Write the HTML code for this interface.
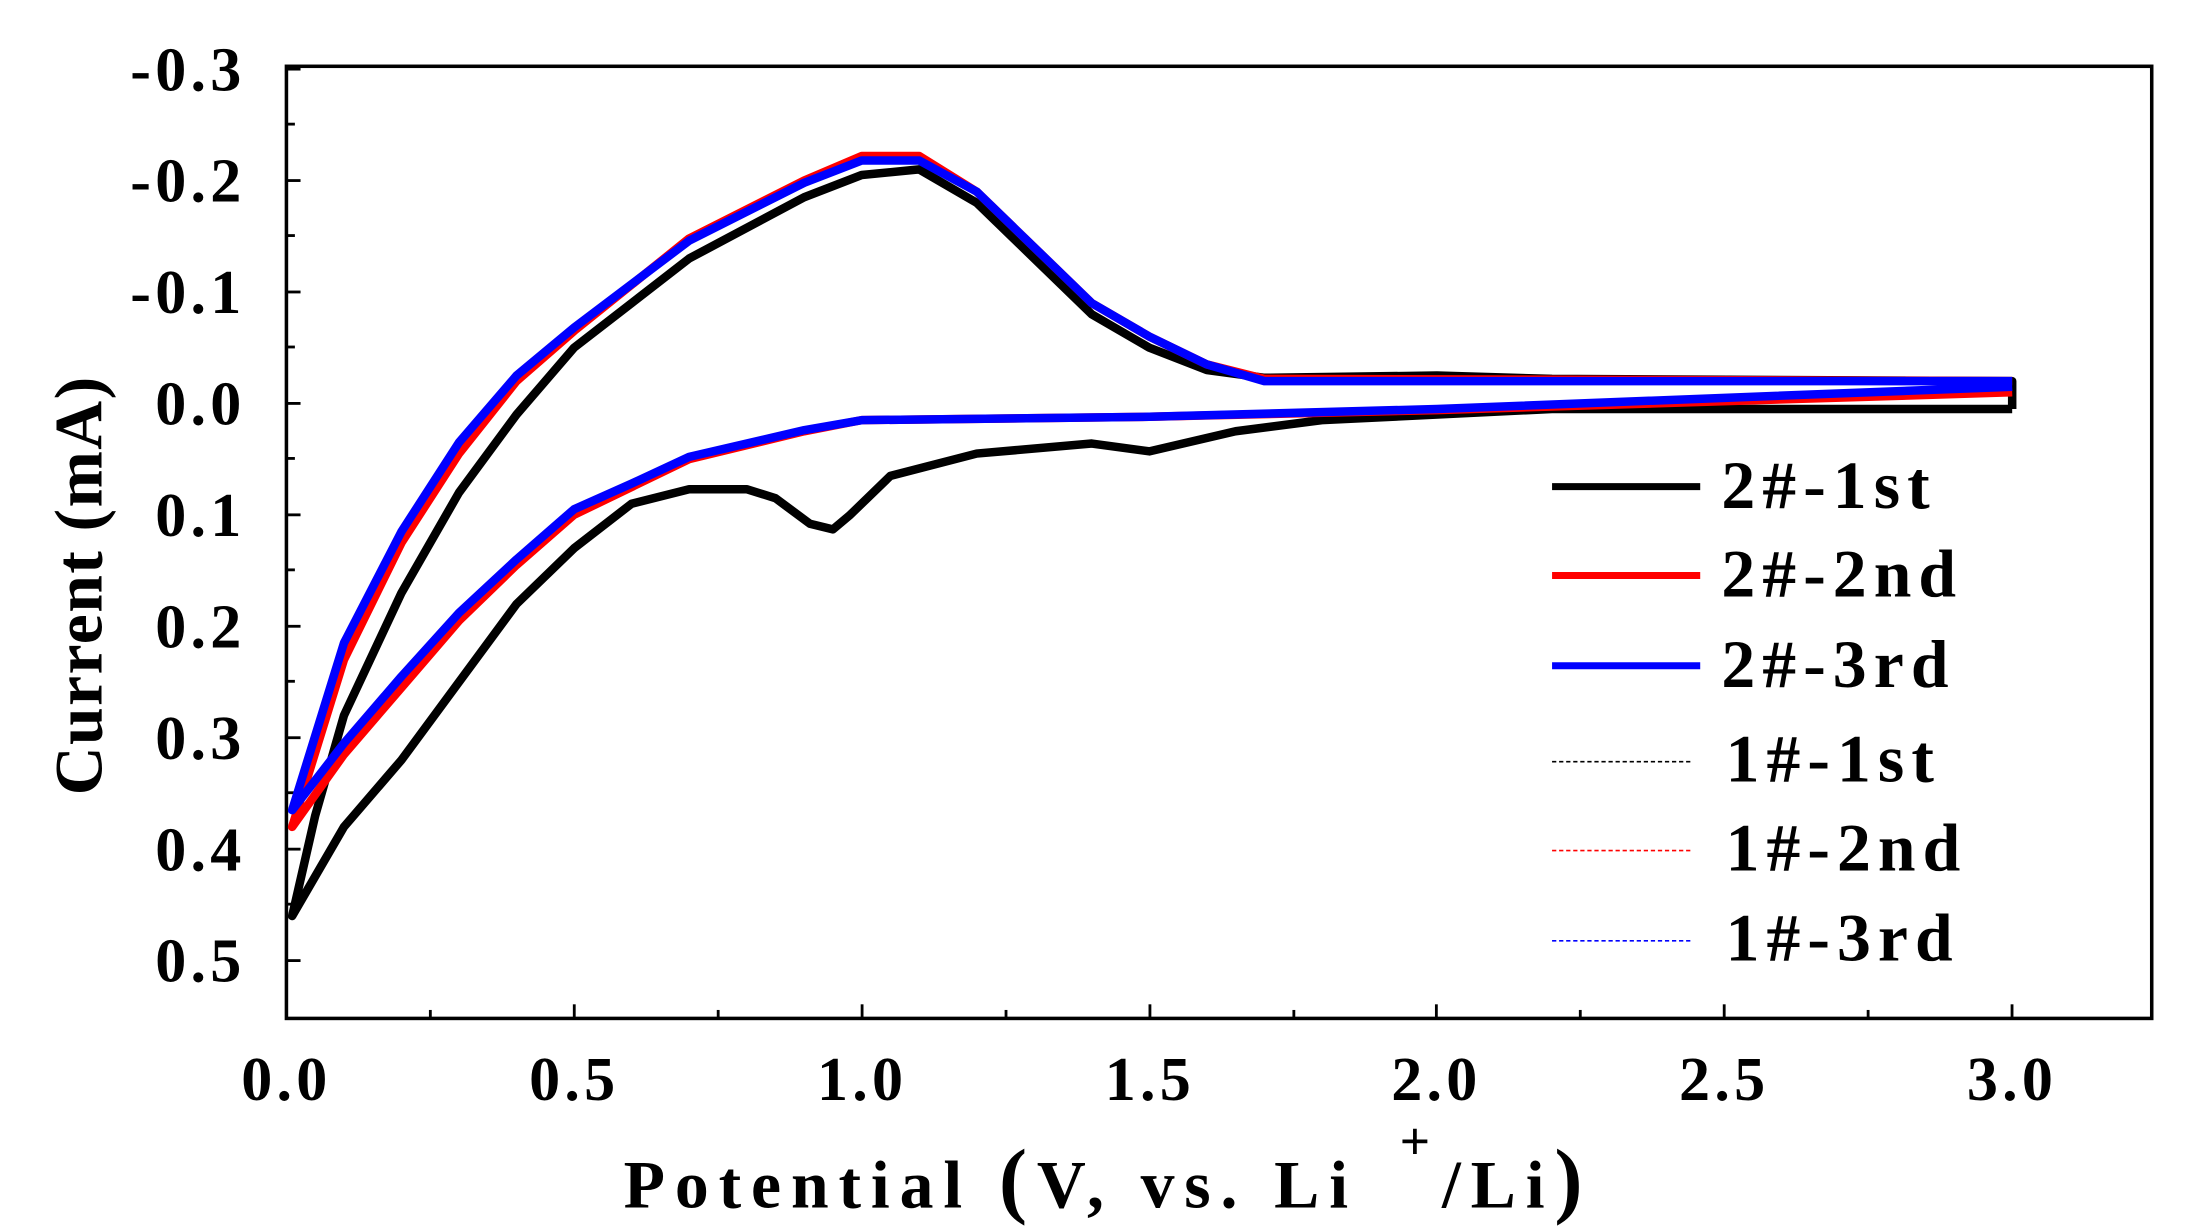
<!DOCTYPE html>
<html><head><meta charset="utf-8"><style>
html,body{margin:0;padding:0;background:#fff;}
svg{display:block;}
text{font-family:"Liberation Serif",serif;font-weight:bold;fill:#000;}
</style></head><body>
<svg width="2187" height="1230" viewBox="0 0 1550 872" preserveAspectRatio="none" xmlns="http://www.w3.org/2000/svg">
<rect x="203" y="47" width="1322" height="675" fill="none" stroke="#000" stroke-width="2.5"/>
<g stroke="#000" stroke-width="2">
<line x1="203" y1="722" x2="203" y2="712"/><line x1="305" y1="722" x2="305" y2="716"/>
<line x1="407" y1="722" x2="407" y2="712"/><line x1="509" y1="722" x2="509" y2="716"/>
<line x1="611" y1="722" x2="611" y2="712"/><line x1="713" y1="722" x2="713" y2="716"/>
<line x1="815" y1="722" x2="815" y2="712"/><line x1="917" y1="722" x2="917" y2="716"/>
<line x1="1018" y1="722" x2="1018" y2="712"/><line x1="1120" y1="722" x2="1120" y2="716"/>
<line x1="1222" y1="722" x2="1222" y2="712"/><line x1="1324" y1="722" x2="1324" y2="716"/>
<line x1="1426" y1="722" x2="1426" y2="712"/>
<line x1="203" y1="49" x2="213" y2="49"/><line x1="203" y1="88" x2="209" y2="88"/>
<line x1="203" y1="128" x2="213" y2="128"/><line x1="203" y1="167" x2="209" y2="167"/>
<line x1="203" y1="207" x2="213" y2="207"/><line x1="203" y1="246" x2="209" y2="246"/>
<line x1="203" y1="286" x2="213" y2="286"/><line x1="203" y1="325" x2="209" y2="325"/>
<line x1="203" y1="365" x2="213" y2="365"/><line x1="203" y1="404" x2="209" y2="404"/>
<line x1="203" y1="444" x2="213" y2="444"/><line x1="203" y1="483" x2="209" y2="483"/>
<line x1="203" y1="523" x2="213" y2="523"/><line x1="203" y1="562" x2="209" y2="562"/>
<line x1="203" y1="602" x2="213" y2="602"/><line x1="203" y1="641" x2="209" y2="641"/>
<line x1="203" y1="681" x2="213" y2="681"/>
</g>
<g font-size="44" text-anchor="end" letter-spacing="3">
<text x="174" y="64">-0.3</text><text x="174" y="143">-0.2</text><text x="174" y="222">-0.1</text>
<text x="174" y="301">0.0</text><text x="174" y="380">0.1</text><text x="174" y="459">0.2</text>
<text x="174" y="538">0.3</text><text x="174" y="617">0.4</text><text x="174" y="696">0.5</text>
</g>
<g font-size="44" text-anchor="middle" letter-spacing="3">
<text x="203" y="780">0.0</text><text x="407" y="780">0.5</text><text x="611" y="780">1.0</text>
<text x="815" y="780">1.5</text><text x="1018" y="780">2.0</text><text x="1222" y="780">2.5</text><text x="1426" y="780">3.0</text>
</g>
<text x="442" y="856" font-size="48" letter-spacing="7">Potential <tspan font-size="60">(</tspan>V, vs. Li</text>
<text x="992" y="822" font-size="38">+</text>
<text x="1022" y="856" font-size="48" letter-spacing="7">/Li<tspan font-size="60">)</tspan></text>
<text transform="translate(72,415) rotate(-90)" font-size="48" text-anchor="middle" letter-spacing="1">Current (mA)</text>
<g transform="translate(203,286) scale(407.7,790)" fill="none" stroke-linejoin="round">
<polyline vector-effect="non-scaling-stroke" stroke="#000" stroke-width="8.5" points="3.0,0.005 2.2,0.005 1.8,0.015 1.65,0.025 1.5,0.043 1.4,0.036 1.2,0.045 1.05,0.065 0.98,0.1 0.95,0.113 0.91,0.108 0.85,0.085 0.8,0.077 0.7,0.077 0.6,0.09 0.5,0.13 0.4,0.18 0.3,0.25 0.2,0.32 0.1,0.38 0.01,0.46 0.05,0.37 0.1,0.28 0.2,0.17 0.3,0.08 0.4,0.01 0.5,-0.05 0.7,-0.13 0.9,-0.185 1.0,-0.205 1.1,-0.21 1.2,-0.18 1.3,-0.13 1.4,-0.08 1.5,-0.05 1.6,-0.03 1.7,-0.023 2.0,-0.025 2.2,-0.022 3.0,-0.02 3.0,0.005"/>
<polyline vector-effect="non-scaling-stroke" stroke="#f00" stroke-width="8.5" points="3.0,-0.01 2.0,0.006 1.5,0.012 1.0,0.015 0.9,0.025 0.7,0.05 0.6,0.075 0.5,0.1 0.4,0.145 0.3,0.195 0.2,0.255 0.1,0.315 0.01,0.38 0.1,0.23 0.2,0.125 0.3,0.045 0.4,-0.02 0.5,-0.065 0.7,-0.148 0.9,-0.2 1.0,-0.222 1.1,-0.222 1.2,-0.19 1.3,-0.14 1.4,-0.09 1.5,-0.06 1.6,-0.035 1.7,-0.022 3.0,-0.02"/>
<polyline vector-effect="non-scaling-stroke" stroke="#00f" stroke-width="8.5" points="3.0,-0.015 2.0,0.005 1.5,0.012 1.0,0.015 0.9,0.024 0.7,0.048 0.6,0.072 0.5,0.095 0.4,0.14 0.3,0.188 0.2,0.245 0.1,0.305 0.01,0.365 0.1,0.215 0.2,0.115 0.3,0.035 0.4,-0.025 0.5,-0.068 0.7,-0.146 0.9,-0.198 1.0,-0.218 1.1,-0.218 1.2,-0.19 1.3,-0.14 1.4,-0.09 1.5,-0.06 1.6,-0.035 1.7,-0.02 3.0,-0.02"/>
</g>
<g stroke-width="5">
<line x1="1100" y1="345" x2="1205" y2="345" stroke="#000"/>
<line x1="1100" y1="408" x2="1205" y2="408" stroke="#f00"/>
<line x1="1100" y1="472" x2="1205" y2="472" stroke="#00f"/>
</g>
<g stroke-width="1.2" stroke-dasharray="3,2">
<line x1="1100" y1="540" x2="1200" y2="540" stroke="#000"/>
<line x1="1100" y1="603" x2="1200" y2="603" stroke="#f00"/>
<line x1="1100" y1="667" x2="1200" y2="667" stroke="#00f"/>
</g>
<g font-size="48" letter-spacing="5">
<text x="1220" y="360">2#-1st</text><text x="1220" y="423">2#-2nd</text><text x="1220" y="487">2#-3rd</text>
<text x="1223" y="554">1#-1st</text><text x="1223" y="617">1#-2nd</text><text x="1223" y="681">1#-3rd</text>
</g>
</svg>
</body></html>
